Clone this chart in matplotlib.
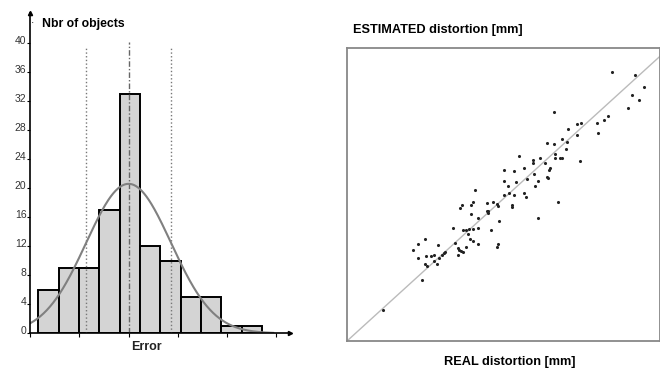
import numpy as np
import matplotlib
matplotlib.use('Agg')
import matplotlib.pyplot as plt
from matplotlib.transforms import ScaledTranslation

plt.rcParams['font.family'] = ['Liberation Sans', 'DejaVu Sans']

# histogram of errors (bin width = 1 error unit)
counts = [6, 9, 9, 17, 33, 12, 10, 5, 5, 1, 1]
bin_start = -4.44
bin_width = 1.0
fit_mean = 0.0
fit_sigma = 2.08
fit_peak = 20.6
y_ticks = list(range(0, 41, 4))
x_ticks = [-4.84, -2.42, 0.0, 2.42, 4.84, 7.26]

# real vs estimated distortion [mm]
real_mm = [1.14, 2.38, 2.12, 2.26, 2.49, 2.26, 2.53, 2.69, 2.77, 2.48,
           2.55, 2.77, 2.87, 2.90, 2.95, 3.03, 3.09, 3.14, 3.40, 3.46,
           3.54, 3.59, 3.65, 3.72, 3.53, 3.80, 3.72, 3.81, 3.90, 3.86,
           3.94, 4.01, 4.04, 4.17, 4.18, 3.97, 4.18, 4.10, 4.01, 3.96,
           3.67, 3.60, 4.47, 4.66, 4.79, 4.81, 4.47, 4.51, 4.49, 4.84,
           4.61, 4.79, 4.82, 5.00, 5.03, 5.03, 5.14, 5.19, 5.32, 5.27,
           5.27, 5.35, 5.39, 5.49, 5.64, 5.64, 5.72, 5.74, 5.95, 5.95,
           5.98, 6.01, 6.10, 6.10, 6.18, 6.32, 6.40, 6.43, 6.47, 6.46,
           6.38, 6.60, 6.66, 6.63, 6.74, 6.79, 6.86, 6.88, 7.00, 7.02,
           7.06, 7.35, 7.36, 7.49, 7.45, 6.60, 7.98, 8.03, 8.22, 8.35,
           8.46, 8.97, 9.11, 9.20, 9.34, 9.49]
estimated_mm = [1.08, 2.14, 3.18, 3.39, 3.57, 2.93, 2.98, 2.98, 3.02, 2.72,
                2.65, 2.82, 2.69, 3.36, 2.92, 3.02, 3.08, 3.11, 3.96, 3.43,
                3.25, 3.19, 3.16, 3.13, 3.02, 3.29, 3.90, 3.90, 3.92, 3.76,
                3.57, 3.51, 3.94, 3.96, 3.39, 4.46, 4.33, 5.31, 4.89, 4.78,
                4.78, 4.66, 4.84, 4.89, 4.81, 4.74, 4.58, 4.58, 4.48, 4.21,
                3.90, 3.31, 3.40, 5.13, 6.01, 5.63, 5.45, 5.21, 5.11, 4.78,
                4.69, 5.97, 5.58, 6.48, 6.07, 5.21, 5.04, 5.68, 6.36, 6.24,
                5.87, 5.46, 5.61, 4.33, 6.42, 6.24, 5.77, 5.72, 6.09, 5.99,
                6.97, 6.92, 6.56, 6.44, 4.87, 6.41, 6.44, 7.10, 6.75, 6.98,
                7.45, 7.25, 7.62, 7.65, 6.31, 8.06, 7.65, 7.32, 7.77, 7.89,
                9.44, 8.18, 8.65, 9.35, 8.47, 8.91]

fig = plt.figure(figsize=(6.6, 3.69), dpi=100)

# ---- left: histogram ----
ax = fig.add_axes([0.0455, 0.0967, 0.394, 0.8672])
lefts = bin_start + np.arange(len(counts)) * bin_width
ax.bar(lefts, counts, width=bin_width, align='edge', color='#d4d4d4',
       edgecolor='black', linewidth=1.4, zorder=2)

ax.vlines([fit_mean - fit_sigma, fit_mean + fit_sigma], 0, 39.4,
          colors='#777777', linestyles=':', linewidth=1.0, zorder=3)
ax.vlines(fit_mean, 0, 40.1, colors='#666666', linestyles=(0, (4, 1.5, 1, 1.5)),
          linewidth=1.0, zorder=3)

xs = np.linspace(-4.82, 7.1, 300)
ax.plot(xs, fit_peak * np.exp(-(xs - fit_mean) ** 2 / (2 * fit_sigma ** 2)),
        color='#808080', linewidth=1.5, zorder=4)

ax.set_xlim(-4.82, 7.93)
ax.set_ylim(0, 44.1)
for s in ['top', 'right']:
    ax.spines[s].set_visible(False)
for s in ['left', 'bottom']:
    ax.spines[s].set_linewidth(1.2)
    ax.spines[s].set_zorder(5)
ax.plot(1, 0, '>k', ms=3, transform=ax.transAxes, clip_on=False)
ax.plot(0, 1, '^k', ms=3, transform=ax.transAxes, clip_on=False)

ax.set_xticks(x_ticks)
ax.set_xticklabels([])
ax.tick_params(axis='x', direction='out', length=3, width=0.8)
ax.set_yticks(y_ticks)
ax.set_yticklabels([str(v) for v in y_ticks], fontsize=7.5, color='#333333')
ax.tick_params(axis='y', direction='out', length=2, width=0.8, pad=0.5)
shift = ScaledTranslation(0, 0.03, fig.dpi_scale_trans)
for lab in ax.get_yticklabels():
    lab.set_transform(lab.get_transform() + shift)

fig.text(32 / 660, 1 - 24 / 369, '\u2022', fontsize=3, ha='left', va='center')
fig.text(42 / 660, 1 - 24 / 369, 'Nbr of objects', fontsize=8.8,
         fontweight='bold', ha='left', va='center')
fig.text(146 / 660, 1 - 347 / 369, 'Error', fontsize=9, fontweight='bold',
         ha='center', va='center', color='#222222')

# ---- right: scatter ----
ax2 = fig.add_axes([0.5258, 0.0759, 0.4742, 0.794])
ax2.plot([0, 11], [0, 11], color='#bbbbbb', linewidth=1.0, zorder=1)
ax2.scatter(real_mm, estimated_mm, s=5, color='#222222', linewidths=0, zorder=2)
ax2.set_xlim(0, 10)
ax2.set_ylim(0, 10.29)
ax2.set_xticks([])
ax2.set_yticks([])
for s in ax2.spines.values():
    s.set_color('#888888')
    s.set_linewidth(1.3)

fig.text(353 / 660, 1 - 30 / 369, 'ESTIMATED distortion [mm]', fontsize=9.2,
         fontweight='bold', ha='left', va='center')
fig.text(510 / 660, 1 - 362 / 369, 'REAL distortion [mm]', fontsize=9.2,
         fontweight='bold', ha='center', va='center')

fig.savefig('out.png', dpi=100)
